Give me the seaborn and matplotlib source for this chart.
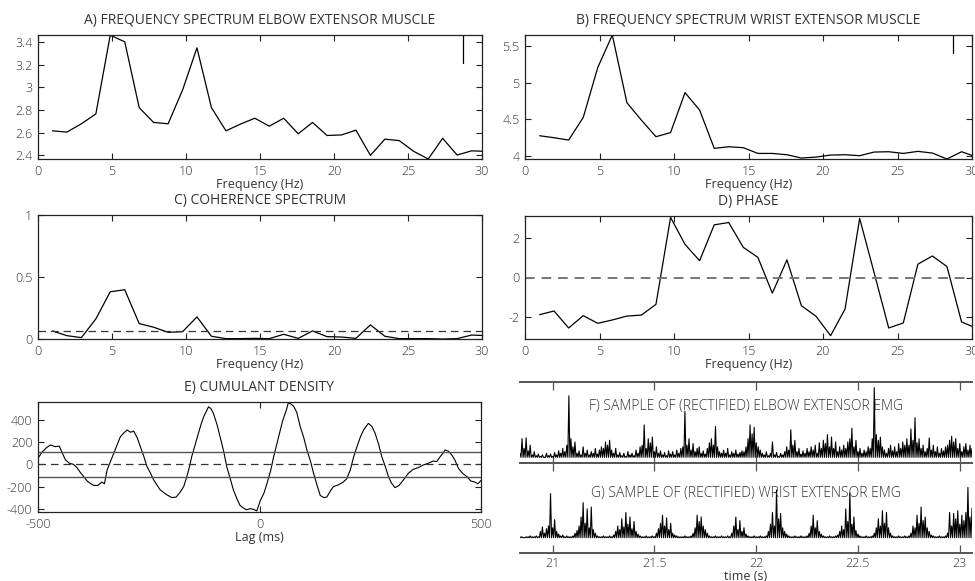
import numpy as np
import matplotlib
matplotlib.use("Agg")
import matplotlib.pyplot as plt
import seaborn as sns

# frequency bins (Hz)
freqs = [0.98, 1.95, 2.93, 3.91, 4.88, 5.86, 6.84, 7.81, 8.79, 9.77,
         10.74, 11.72, 12.70, 13.67, 14.65, 15.63, 16.60, 17.58, 18.55, 19.53,
         20.51, 21.48, 22.46, 23.44, 24.41, 25.39, 26.37, 27.34, 28.32, 29.30, 30.27]

elbow_spec = [2.616, 2.605, 2.678, 2.765, 3.458, 3.40, 2.82, 2.69, 2.678, 2.976,
              3.347, 2.82, 2.616, 2.675, 2.727, 2.657, 2.727, 2.59, 2.69, 2.575,
              2.58, 2.622, 2.40, 2.543, 2.53, 2.435, 2.368, 2.55, 2.403, 2.44, 2.435]

wrist_spec = [4.277, 4.25, 4.218, 4.527, 5.205, 5.65, 4.727, 4.49, 4.264, 4.32,
              4.864, 4.627, 4.105, 4.127, 4.114, 4.036, 4.036, 4.018, 3.973, 3.986,
              4.014, 4.018, 4.005, 4.055, 4.059, 4.036, 4.064, 4.041, 3.96, 4.059, 3.99]

coherence = [0.065, 0.027, 0.011, 0.162, 0.381, 0.397, 0.124, 0.095, 0.054, 0.059,
             0.178, 0.022, 0.003, 0.003, 0.005, 0.003, 0.038, 0.005, 0.065, 0.019,
             0.016, 0.005, 0.114, 0.022, 0.003, 0.003, 0.003, 0.0, 0.003, 0.032, 0.027]
coh_limit = 0.062

phase = [-1.90, -1.71, -2.58, -1.95, -2.34, -2.17, -1.97, -1.92, -1.37, 3.07,
         1.69, 0.86, 2.69, 2.81, 1.54, 1.03, -0.80, 0.90, -1.44, -1.98,
         -2.97, -1.61, 3.02, 0.22, -2.58, -2.32, 0.68, 1.10, 0.56, -2.27, -2.58]

# confidence marker on spectra
spec_ci_x = 28.7
elbow_ci = [3.21, 3.46]
wrist_ci = [5.40, 5.65]

# cumulant density (lag in ms)
lags = [-500, -491, -481, -472, -461, -452, -446, -438,
        -429, -420, -412, -405, -397, -389, -381, -374,
        -365, -356, -350, -344, -336, -329, -321, -314,
        -306, -299, -291, -284, -276, -269, -261, -254,
        -246, -239, -231, -224, -211, -198, -188, -179,
        -171, -164, -158, -153, -145, -138, -132, -126,
        -120, -115, -109, -104, -96, -89, -81, -74,
        -66, -59, -51, -44, -36, -29, -21, -14,
        -6, 2, 10, 17, 25, 32, 40, 47,
        52, 58, 62, 65, 71, 77, 84, 92,
        100, 107, 115, 122, 130, 137, 145, 152,
        160, 167, 178, 189, 197, 205, 212, 220,
        228, 235, 240, 246, 254, 261, 269, 276,
        284, 291, 298, 306, 315, 325, 336, 347,
        358, 370, 381, 392, 400, 408, 414, 419,
        426, 434, 441, 449, 458, 468, 477, 486,
        493, 500]
cumulant = [55, 110, 150, 175, 160, 165, 110, 40,
            10, 0, -30, -70, -110, -150, -175, -190,
            -190, -160, -175, -50, 30, 100, 180, 250,
            285, 310, 290, 300, 240, 160, 70, -20,
            -80, -140, -190, -230, -270, -300, -295, -250,
            -200, -110, -20, 70, 180, 280, 360, 430,
            480, 520, 500, 460, 360, 250, 120, -20,
            -130, -230, -310, -370, -395, -410, -400, -405,
            -420, -325, -260, -170, -60, 70, 200, 310,
            390, 460, 510, 555, 545, 525, 470, 340,
            240, 130, 30, -80, -190, -280, -300, -295,
            -240, -200, -185, -160, -130, -50, 60, 160,
            250, 310, 340, 370, 340, 280, 180, 70,
            -20, -110, -170, -210, -190, -140, -80, -45,
            -30, -5, 10, 30, 25, 70, 100, 130,
            120, 85, 40, -35, -80, -110, -150, -160,
            -175, -145]
cum_limit = 115

# rectified EMG samples, 10 ms apart from 20.84 s
elbow_emg = [
    0.12, 0.30, 0.18, 0.31, 0.15, 0.22, 0.10, 0.14, 0.09, 0.11,
    0.08, 0.10, 0.07, 0.12, 0.09, 0.11, 0.08, 0.13, 0.10, 0.15,
    0.12, 0.18, 0.14, 0.22, 0.83, 0.30, 0.20, 0.26, 0.12, 0.15,
    0.10, 0.20, 0.12, 0.16, 0.10, 0.14, 0.12, 0.18, 0.11, 0.16,
    0.20, 0.18, 0.26, 0.22, 0.28, 0.16, 0.12, 0.18, 0.10, 0.13,
    0.09, 0.12, 0.08, 0.14, 0.10, 0.12, 0.09, 0.16, 0.12, 0.20,
    0.22, 0.47, 0.18, 0.30, 0.25, 0.32, 0.14, 0.20, 0.12, 0.15,
    0.10, 0.13, 0.09, 0.15, 0.11, 0.14, 0.10, 0.16, 0.12, 0.18,
    0.20, 0.64, 0.22, 0.30, 0.16, 0.24, 0.14, 0.18, 0.20, 0.12,
    0.15, 0.11, 0.18, 0.25, 0.30, 0.22, 0.45, 0.20, 0.14, 0.12,
    0.16, 0.12, 0.18, 0.10, 0.14, 0.12, 0.16, 0.11, 0.13, 0.15,
    0.14, 0.20, 0.30, 0.47, 0.36, 0.44, 0.25, 0.20, 0.16, 0.12,
    0.10, 0.14, 0.09, 0.12, 0.26, 0.10, 0.13, 0.08, 0.12, 0.10,
    0.14, 0.20, 0.16, 0.41, 0.22, 0.28, 0.14, 0.18, 0.11, 0.15,
    0.12, 0.18, 0.14, 0.20, 0.16, 0.22, 0.12, 0.25, 0.18, 0.28,
    0.24, 0.35, 0.20, 0.32, 0.18, 0.26, 0.14, 0.20, 0.16, 0.22,
    0.18, 0.26, 0.30, 0.43, 0.20, 0.28, 0.14, 0.18, 0.12, 0.16,
    0.14, 0.20, 0.18, 0.30, 0.93, 0.35, 0.28, 0.32, 0.20, 0.16,
    0.12, 0.18, 0.22, 0.15, 0.20, 0.14, 0.24, 0.18, 0.26, 0.22,
    0.30, 0.22, 0.42, 0.28, 0.56, 0.25, 0.30, 0.18, 0.22, 0.14,
    0.18, 0.31, 0.16, 0.22, 0.14, 0.20, 0.12, 0.18, 0.15, 0.20,
    0.22, 0.28, 0.33, 0.26, 0.30, 0.18, 0.24, 0.14, 0.20, 0.24,
    0.16, 0.22, 0.18]
elbow_floor = 0.07

wrist_emg = [
    0.18, 0.18, 0.17, 0.18, 0.18, 0.19, 0.18, 0.18, 0.19, 0.18,
    0.24, 0.29, 0.22, 0.27, 0.30, 0.66, 0.28, 0.37, 0.24, 0.21,
    0.19, 0.20, 0.18, 0.19, 0.18, 0.18, 0.19, 0.22, 0.25, 0.30,
    0.40, 0.56, 0.33, 0.49, 0.28, 0.51, 0.26, 0.22, 0.19, 0.18,
    0.18, 0.19, 0.18, 0.18, 0.19, 0.18, 0.20, 0.24, 0.30, 0.26,
    0.38, 0.29, 0.45, 0.32, 0.40, 0.27, 0.35, 0.24, 0.21, 0.19,
    0.18, 0.18, 0.19, 0.18, 0.18, 0.19, 0.18, 0.22, 0.27, 0.33,
    0.42, 0.30, 0.39, 0.26, 0.33, 0.22, 0.20, 0.19, 0.18, 0.18,
    0.18, 0.19, 0.18, 0.18, 0.19, 0.22, 0.28, 0.42, 0.35, 0.40,
    0.30, 0.26, 0.22, 0.19, 0.18, 0.18, 0.19, 0.18, 0.18, 0.19,
    0.18, 0.18, 0.19, 0.18, 0.22, 0.30, 0.40, 0.26, 0.36, 0.24,
    0.28, 0.21, 0.19, 0.18, 0.18, 0.19, 0.18, 0.18, 0.19, 0.18,
    0.18, 0.19, 0.24, 0.32, 0.45, 0.30, 0.70, 0.38, 0.44, 0.28,
    0.24, 0.21, 0.19, 0.18, 0.18, 0.19, 0.18, 0.18, 0.19, 0.18,
    0.18, 0.19, 0.22, 0.30, 0.42, 0.28, 0.36, 0.24, 0.21, 0.19,
    0.18, 0.18, 0.19, 0.18, 0.18, 0.19, 0.20, 0.24, 0.30, 0.26,
    0.49, 0.35, 0.67, 0.32, 0.40, 0.25, 0.21, 0.19, 0.18, 0.18,
    0.19, 0.18, 0.18, 0.19, 0.22, 0.28, 0.38, 0.30, 0.47, 0.33,
    0.45, 0.28, 0.22, 0.19, 0.18, 0.18, 0.19, 0.18, 0.18, 0.19,
    0.18, 0.19, 0.22, 0.30, 0.28, 0.42, 0.33, 0.51, 0.36, 0.40,
    0.28, 0.24, 0.20, 0.19, 0.18, 0.18, 0.19, 0.18, 0.18, 0.19,
    0.22, 0.45, 0.30, 0.44, 0.38, 0.47, 0.32, 0.42, 0.36, 0.45,
    0.73, 0.40, 0.50]
wrist_floor = 0.17

emg_time = np.linspace(20.84, 23.06, len(elbow_emg))
time_ticks = [21, 21.5, 22, 22.5, 23]
time_labels = ["21", "21.5", "22", "22.5", "23"]

sns.set_theme(style="ticks")
plt.rcParams["font.family"] = ["Open Sans", "DejaVu Sans"]
plt.rcParams["font.weight"] = "light"
plt.rcParams["axes.edgecolor"] = "#222222"
plt.rcParams["axes.linewidth"] = 0.9
TXT = "#333333"
W, H = 975, 581


def make_axes(fig, left, top, right, bottom):
    return fig.add_axes([left / W, 1 - bottom / H, (right - left) / W, (bottom - top) / H])


def style(ax, title, xlabel=None):
    ax.tick_params(direction="in", top=True, right=True, length=4, width=0.8,
                   labelsize=9, colors="#222222", labelcolor=TXT, pad=4)
    ax.set_title(title, fontsize=10, color=TXT, pad=8)
    if xlabel:
        ax.set_xlabel(xlabel, fontsize=9, color=TXT, labelpad=0)
    else:
        ax.set_xlabel("")
    ax.set_ylabel("")


def trace(ax, x, y, lw=0.9):
    sns.lineplot(x=x, y=y, ax=ax, color="black", lw=lw, estimator=None, sort=False)


def stems(t, vals, floor):
    # each sample drawn as a spike rising from the floor of the rectified signal
    half = (t[1] - t[0]) / 2
    xs = np.column_stack([t, t + half]).ravel()
    ys = np.column_stack([vals, np.full(len(vals), floor)]).ravel()
    return xs, ys


fig = plt.figure(figsize=(W / 100, H / 100), dpi=100)

freq_ticks = [0, 5, 10, 15, 20, 25, 30]
freq_labels = ["0", "5", "10", "15", "20", "25", "30"]

# A
ax = make_axes(fig, 38, 35, 482, 159)
trace(ax, freqs, elbow_spec)
ax.plot([spec_ci_x, spec_ci_x], elbow_ci, color="black", lw=0.9)
ax.set_xlim(0, 30)
ax.set_ylim(2.368, 3.46)
ax.set_xticks(freq_ticks, freq_labels)
ax.set_yticks([2.4, 2.6, 2.8, 3, 3.2, 3.4], ["2.4", "2.6", "2.8", "3", "3.2", "3.4"])
style(ax, "A) FREQUENCY SPECTRUM ELBOW EXTENSOR MUSCLE", "Frequency (Hz)")

# B
ax = make_axes(fig, 525, 35, 972, 159)
trace(ax, freqs, wrist_spec)
ax.plot([spec_ci_x, spec_ci_x], wrist_ci, color="black", lw=0.9)
ax.set_xlim(0, 30)
ax.set_ylim(3.96, 5.65)
ax.set_xticks(freq_ticks, freq_labels)
ax.set_yticks([4, 4.5, 5, 5.5], ["4", "4.5", "5", "5.5"])
style(ax, "B) FREQUENCY SPECTRUM WRIST EXTENSOR MUSCLE", "Frequency (Hz)")

# C
ax = make_axes(fig, 38, 215, 482, 339)
trace(ax, freqs, coherence)
ax.axhline(coh_limit, color="#333333", lw=0.9, ls=(0, (6, 4)))
ax.set_xlim(0, 30)
ax.set_ylim(0, 1)
ax.set_xticks(freq_ticks, freq_labels)
ax.set_yticks([0, 0.5, 1], ["0", "0.5", "1"])
style(ax, "C) COHERENCE SPECTRUM", "Frequency (Hz)")

# D
ax = make_axes(fig, 525, 216, 972, 339)
trace(ax, freqs, phase)
ax.axhline(0, color="#777777", lw=1.4, ls=(0, (5, 3.5)))
ax.set_xlim(0, 30)
ax.set_ylim(-np.pi, np.pi)
ax.set_xticks(freq_ticks, freq_labels)
ax.set_yticks([-2, 0, 2], ["-2", "0", "2"])
style(ax, "D) PHASE", "Frequency (Hz)")

# E
ax = make_axes(fig, 38, 402, 481, 512)
trace(ax, lags, cumulant, lw=0.8)
ax.axhline(0, color="#333333", lw=0.9, ls=(0, (6, 4)))
ax.axhline(cum_limit, color="#555555", lw=1.0)
ax.axhline(-cum_limit, color="#555555", lw=1.0)
ax.set_xlim(-500, 500)
ax.set_ylim(-430, 563)
ax.set_xticks([-500, 0, 500], ["-500", "0", "500"])
ax.set_yticks([-400, -200, 0, 200, 400], ["-400", "-200", "0", "200", "400"])
style(ax, "E) CUMULANT DENSITY", "Lag (ms)")

# F and G
panels = [(382, 463, elbow_emg, elbow_floor, 0.70, "F) SAMPLE OF (RECTIFIED) ELBOW EXTENSOR EMG"),
          (463, 553, wrist_emg, wrist_floor, 0.66, "G) SAMPLE OF (RECTIFIED) WRIST EXTENSOR EMG")]
for top, bottom, data, floor, ty, title in panels:
    ax = make_axes(fig, 520, top, 972, bottom)
    xs, ys = stems(emg_time, data, floor)
    trace(ax, xs, ys, lw=0.8)
    ax.set_xlim(20.84, 23.06)
    ax.set_ylim(0, 1)
    ax.set_yticks([])
    for s in ["left", "right"]:
        ax.spines[s].set_visible(False)
    for s in ["top", "bottom"]:
        ax.spines[s].set_color("#555555")
        ax.spines[s].set_linewidth(1.4)
    ax.set_xticks(time_ticks, time_labels)
    ax.tick_params(direction="in", top=True, bottom=True, left=False, right=False,
                   length=6, width=0.9, colors="#555555", labelsize=9, labelcolor=TXT, pad=3)
    ax.text(0.5, ty, title, transform=ax.transAxes, ha="center", va="center",
            fontsize=10, color=TXT)
    ax.set_ylabel("")
    if data is elbow_emg:
        ax.set_xticklabels([])
        ax.set_xlabel("")
    else:
        ax.set_xlabel("time (s)", fontsize=9, color=TXT, labelpad=0)

fig.savefig("out.png", dpi=100)
